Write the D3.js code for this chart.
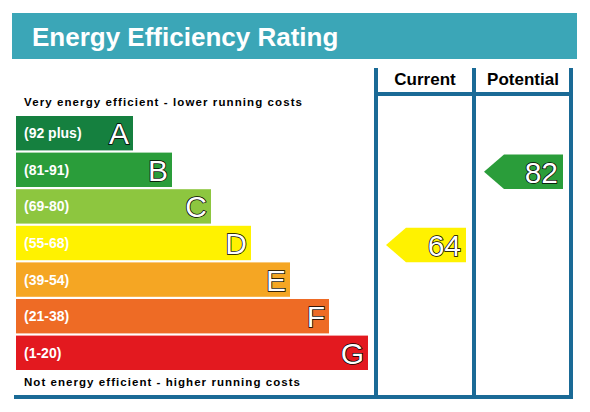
<!DOCTYPE html><html><head><meta charset="utf-8"><script src="https://cdn.jsdelivr.net/npm/d3@7"></script>
<style>body{margin:0;background:#fff}</style></head><body><svg id="c" width="590" height="412"></svg>
<script>
const bands=["A","B","C","D","E","F","G"];
const ranges=["(92 plus)","(81-91)","(69-80)","(55-68)","(39-54)","(21-38)","(1-20)"];
const colors=["#15803f","#2a9d3a","#8dc63f","#fff200","#f5a623","#ee6b25","#e3191f"];
const barEnds=[133,172,211,251,290,329,368];
const columns=["Current","Potential"];
const ratings=[64,82];
const ratingBands=["D","B"];
const svg=d3.select("#c"),F="Liberation Sans, Arial, sans-serif";
const y=d3.scaleBand().domain(bands).range([116,370]).paddingInner(0.06);
const x=d3.scaleLinear().domain([0,590]).range([0,590]);
svg.append("rect").attr("x",12).attr("y",13).attr("width",565).attr("height",46).attr("fill","#3ba6b7");
svg.append("text").attr("x",32).attr("y",46).attr("fill","#fff").attr("font-family",F).attr("font-weight","bold").attr("font-size",26).text("Energy Efficiency Rating");
const blue="#1a6a96";
[376,474,571].forEach(v=>svg.append("line").attr("x1",v).attr("x2",v).attr("y1",68).attr("y2",398).attr("stroke",blue).attr("stroke-width",4));
svg.append("line").attr("x1",376).attr("x2",573).attr("y1",94).attr("y2",94).attr("stroke",blue).attr("stroke-width",4);
svg.append("line").attr("x1",14).attr("x2",573).attr("y1",397).attr("y2",397).attr("stroke",blue).attr("stroke-width",4);
const colX=[425,523];
columns.forEach((c,i)=>svg.append("text").attr("x",colX[i]).attr("y",85).attr("text-anchor","middle").attr("font-family",F).attr("font-weight","bold").attr("font-size",17).text(c));
svg.append("text").attr("x",24).attr("y",106).attr("font-family",F).attr("font-weight","bold").attr("font-size",11.5).attr("textLength",278).text("Very energy efficient - lower running costs");
svg.append("text").attr("x",24).attr("y",386).attr("font-family",F).attr("font-weight","bold").attr("font-size",11.5).attr("textLength",276).text("Not energy efficient - higher running costs");
const g=svg.selectAll("g.b").data(bands).join("g");
g.append("rect").attr("x",16).attr("y",d=>y(d)).attr("height",y.bandwidth()).attr("width",(d,i)=>x(barEnds[i])-16).attr("fill",(d,i)=>colors[i]);
g.append("text").attr("x",24).attr("y",d=>y(d)+y.bandwidth()/2+5).attr("fill","#fff").attr("font-family",F).attr("font-weight","bold").attr("font-size",14).text((d,i)=>ranges[i]);
g.append("text").attr("x",(d,i)=>x(barEnds[i])-4).attr("y",d=>y(d)+y.bandwidth()/2+11).attr("text-anchor","end").attr("fill","#fff").attr("stroke","#000").attr("stroke-width",1.5).attr("paint-order","stroke").attr("font-family",F).attr("font-size",30).text(d=>d);
const arrX=[[386,466],[484,563]];
ratings.forEach((r,i)=>{const b=ratingBands[i],idx=bands.indexOf(b),t=y(b)+2,h=y.bandwidth(),[l,rr]=arrX[i];
svg.append("path").attr("d",`M${l},${t+h/2}L${l+20},${t}H${rr}V${t+h}H${l+20}Z`).attr("fill",colors[idx]);
svg.append("text").attr("x",rr-5).attr("y",t+h/2+11).attr("text-anchor","end").attr("fill","#fff").attr("stroke","#000").attr("stroke-width",1.5).attr("paint-order","stroke").attr("font-family",F).attr("font-size",30).text(r);});
</script></body></html>
